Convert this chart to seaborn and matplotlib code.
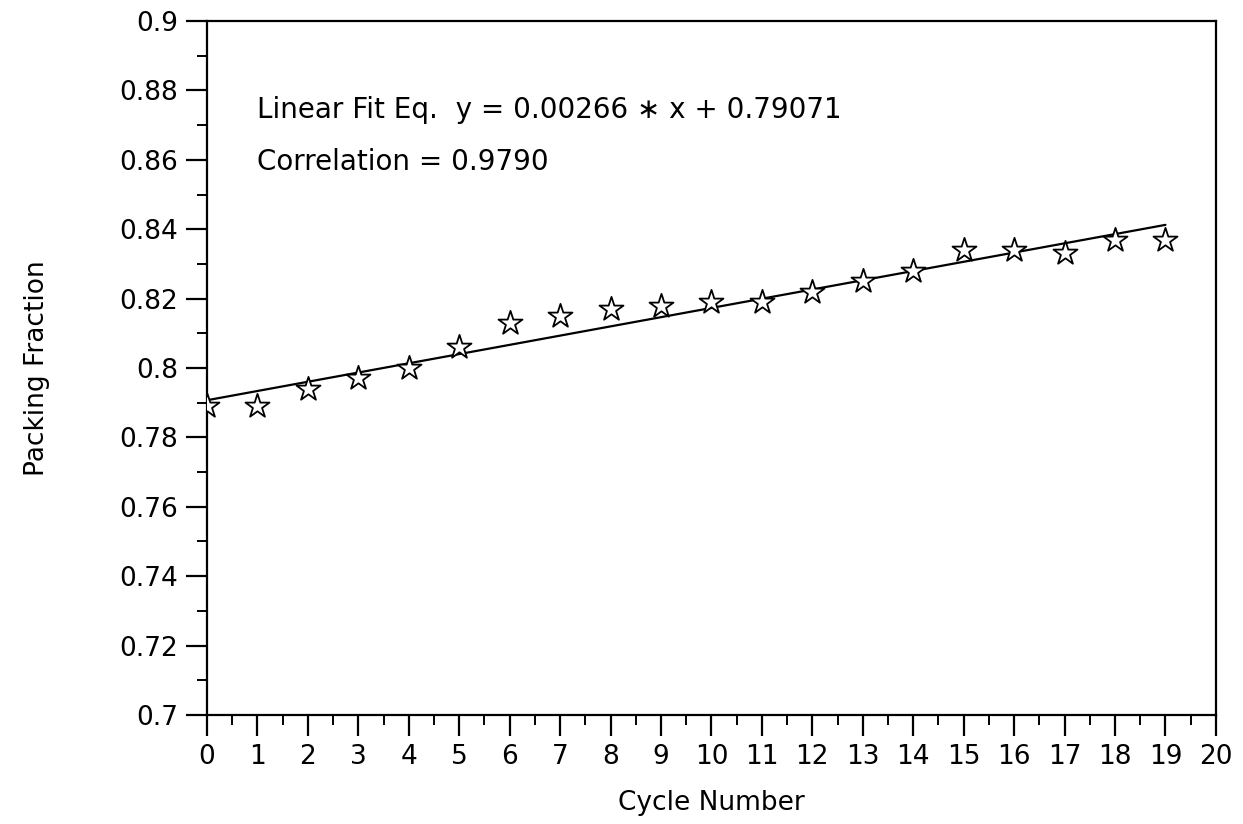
import numpy as np
import pandas as pd
import matplotlib
matplotlib.use("Agg")
import matplotlib.pyplot as plt
import seaborn as sns
from matplotlib.ticker import MultipleLocator

# 값은 그림에서 읽어낸 것
cycle = list(range(20))
packing = [0.789, 0.789, 0.794, 0.797, 0.800, 0.806, 0.813, 0.815, 0.817, 0.818,
           0.819, 0.819, 0.822, 0.825, 0.828, 0.834, 0.834, 0.833, 0.837, 0.837]
fit_slope = 0.00266
fit_intercept = 0.79071
correlation = 0.9790

df = pd.DataFrame({"Cycle Number": cycle, "Packing Fraction": packing})
df["fit"] = fit_intercept + fit_slope * df["Cycle Number"]

sns.set_style("ticks")
plt.rcParams["font.family"] = ["DejaVu Sans"]
plt.rcParams["text.color"] = "black"
plt.rcParams["axes.labelcolor"] = "black"
plt.rcParams["xtick.color"] = "black"
plt.rcParams["ytick.color"] = "black"

fig = plt.figure(figsize=(12.43, 8.24), dpi=100)
ax = fig.add_axes([0.1665, 0.1323, 0.8117, 0.8422])

sns.lineplot(data=df, x="Cycle Number", y="fit", color="black", linewidth=1.6, ax=ax)
sns.scatterplot(data=df, x="Cycle Number", y="Packing Fraction", marker="*", s=330,
                facecolor="white", edgecolor="black", linewidth=1.3, zorder=3, ax=ax)

ax.set_xlim(0, 20)
ax.set_ylim(0.7, 0.9)
ax.xaxis.set_major_locator(MultipleLocator(1))
ax.xaxis.set_minor_locator(MultipleLocator(0.5))
ax.yaxis.set_major_locator(MultipleLocator(0.02))
ax.yaxis.set_minor_locator(MultipleLocator(0.01))
ax.yaxis.set_major_formatter(plt.FuncFormatter(lambda v, p: f"{v:.2f}".rstrip("0")))

ax.tick_params(which="major", direction="out", length=15, width=1.6, labelsize=19, pad=6)
ax.tick_params(which="minor", direction="out", length=7, width=1.4)
for s in ax.spines.values():
    s.set_linewidth(1.6)
    s.set_color("black")

ax.set_xlabel("Cycle Number", fontsize=19, labelpad=14)
ax.set_ylabel("Packing Fraction", fontsize=19, labelpad=50)

ax.text(1.0, 0.8743, f"Linear Fit Eq.  y = {fit_slope:.5f} \u2217 x + {fit_intercept:.5f}",
        fontsize=20, va="center", ha="left")
ax.text(1.0, 0.8594, f"Correlation = {correlation:.4f}", fontsize=20, va="center", ha="left")

fig.savefig("out.png", dpi=100)
